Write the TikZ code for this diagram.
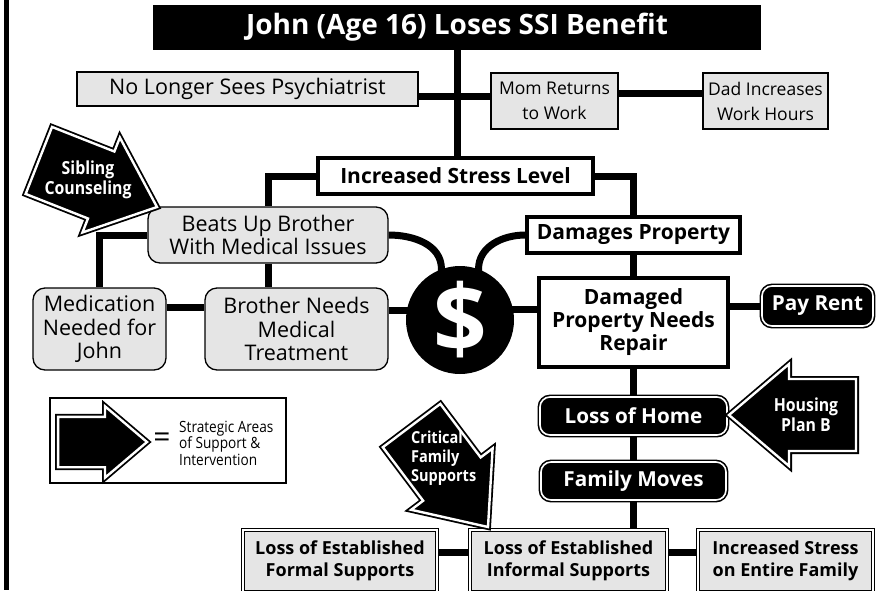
\documentclass[tikz,border=0pt]{standalone}
\usepackage{fontspec}
\setmainfont{Open Sans}
\newfontfamily\narrowfont{Open Sans}[FakeStretch=0.88]
\usetikzlibrary{backgrounds}

\tikzset{
  link/.style={line width=7pt},
  graybox/.style={draw, line width=1.3pt, fill=gray!20, align=center, inner sep=0pt,
    font=\fontsize{17.5}{25}\selectfont},
  roundbox/.style={graybox, rounded corners=12pt, font=\fontsize{21.5}{23.5}\selectfont},
  whitebox/.style={draw, line width=3.5pt, fill=white, align=center, inner sep=0pt,
    font=\bfseries\fontsize{21}{23}\selectfont},
  blackbox/.style={draw, fill=black, line width=1.6pt, double=white, double distance=1.6pt,
    rounded corners=10pt, text=white, inner sep=0pt, font=\bfseries\fontsize{20.7}{24}\selectfont},
  framedbox/.style={draw, fill=gray!20, line width=1.2pt, double=white, double distance=2pt,
    align=center, inner sep=0pt, font=\bfseries\fontsize{18}{22}\selectfont},
  supportarrow/.style={draw, fill=black, line width=1.8pt, double=white, double distance=2.4pt},
  arrowtext/.style={text=white, align=center, inner sep=0pt,
    font=\narrowfont\bfseries\fontsize{18}{20}\selectfont},
}

% block arrow with its tip at (#1,#2), turned by #3, scaled by #4
\newcommand{\supportarrow}[4]{%
  \begin{scope}[shift={(#1,#2)}, rotate=#3, scale=#4]
    \draw[supportarrow] (0,0) -- (-60,51) -- (-60,36) -- (-127,36)
      -- (-127,-36) -- (-60,-36) -- (-60,-51) -- cycle;
  \end{scope}}

\begin{document}
\begin{tikzpicture}[x=1pt, y=1pt]
\useasboundingbox (0,0) rectangle (876,-590);
\draw[line width=5pt] (6.5,0) -- (6.5,-590);

% top
\node[fill=black, text=white, minimum width=608, minimum height=45,
  font=\bfseries\fontsize{28}{28}\selectfont] (title) at (457,-27.5) {John (Age 16) Loses SSI Benefit};
\node[graybox, minimum width=341, minimum height=34, font=\fontsize{21.5}{24}\selectfont]
  (psych) at (247.5,-89) {No Longer Sees Psychiatrist};
\node[graybox, minimum width=127, minimum height=56] (mom) at (554.5,-101) {Mom Returns\\to Work};
\node[graybox, minimum width=125, minimum height=56] (dad) at (765.5,-101) {Dad Increases\\Work Hours};
\node[whitebox, minimum width=275, minimum height=36] (stress) at (455.5,-176) {Increased Stress Level};

% left branch
\node[roundbox, minimum width=240, minimum height=56] (beats) at (268,-235) {Beats Up Brother\\With Medical Issues};
\node[roundbox, minimum width=133, minimum height=82] (meds) at (99.5,-329) {Medication\\Needed for\\John};
\node[roundbox, minimum width=183, minimum height=82] (brother) at (296.5,-329) {Brother Needs\\Medical\\Treatment};
\node[circle, fill=black, minimum size=108, inner sep=0pt, text=white,
  font=\bfseries\fontsize{94}{94}\selectfont] (money) at (460,-320) {\$};

% right branch
\node[whitebox, minimum width=213, minimum height=36] (damage) at (633.5,-235) {Damages Property};
\node[whitebox, minimum width=189, minimum height=89] (repair) at (633.5,-322.5) {Damaged\\Property Needs\\Repair};
\node[blackbox, minimum width=111, minimum height=40] (rent) at (817.5,-306) {Pay Rent};
\node[blackbox, minimum width=187, minimum height=38] (home) at (633.5,-416) {Loss of Home};
\node[blackbox, minimum width=185, minimum height=38] (moves) at (633.5,-481) {Family Moves};

% bottom row
\node[framedbox, minimum width=194, minimum height=62] (formal) at (340,-561) {Loss of Established\\Formal Supports};
\node[framedbox, minimum width=197, minimum height=62] (informal) at (568.5,-561) {Loss of Established\\Informal Supports};
\node[framedbox, minimum width=175, minimum height=62] (family) at (785.5,-561) {Increased Stress\\on Entire Family};

\begin{scope}[on background layer]
\begin{scope}[link]
  \draw (title.south) -- (title.south |- stress.north);
  \draw ([yshift=-7pt]psych.east) -- ([yshift=-7pt]psych.east -| mom.west);
  \draw ([yshift=8pt]mom.east) -- ([yshift=8pt]dad.west);
  \draw (stress.west) -| (beats.north);
  \draw (stress.east) -| (damage.north);
  \draw (beats.south) -- (beats.south |- brother.north);
  \draw (beats.west) -| (meds.north);
  \draw ([yshift=22pt]meds.east) -- ([yshift=22pt]meds.east -| brother.west);
  \draw ([yshift=19pt]brother.east) -- ([yshift=19pt]brother.east -| money.center);
  \draw ([yshift=13.5pt]repair.west) -- ([yshift=13.5pt]repair.west -| money.center);
  \draw (beats.east) to[out=0, in=90] (money.110) -- ++(0,-15);
  \draw (damage.west) to[out=180, in=90] (money.70) -- ++(0,-15);
  \draw (damage.south) -- (repair.north);
  \draw (rent.west) -- (rent.west -| repair.east);
  \draw (repair.south) -- (home.north);
  \draw (home.south) -- (moves.north);
  \draw (moves.south) -- (moves.south |- informal.north);
  \draw ([yshift=9pt]formal.east) -- ([yshift=9pt]informal.west);
  \draw ([yshift=9pt]informal.east) -- ([yshift=9pt]family.west);
\end{scope}
\end{scope}

% legend
\node[draw, line width=2pt, minimum width=236, minimum height=85] (legend) at (168,-440.5) {};
\supportarrow{147}{-442}{0}{0.7}
\node[font=\fontsize{30}{30}\selectfont] (equals) at (162,-440) {=};
\node[anchor=west, align=left, inner sep=0pt, font=\narrowfont\fontsize{15.5}{16.5}\selectfont]
  (legendtext) at (179,-443) {Strategic Areas\\of Support \&\\Intervention};

% strategic areas
\supportarrow{157}{-207}{-21.5}{1}
\node[arrowtext] (sibling) at (88,-180) {Sibling\\Counseling};
\supportarrow{729}{-415}{180}{1}
\node[arrowtext] (housing) at (806,-415) {Housing\\Plan B};
\supportarrow{488}{-527}{-53}{1}
\node[arrowtext, align=left, anchor=west, font=\narrowfont\bfseries\fontsize{16.5}{19}\selectfont]
  (critical) at (411,-458) {Critical\\Family\\Supports};
\end{tikzpicture}
\end{document}
